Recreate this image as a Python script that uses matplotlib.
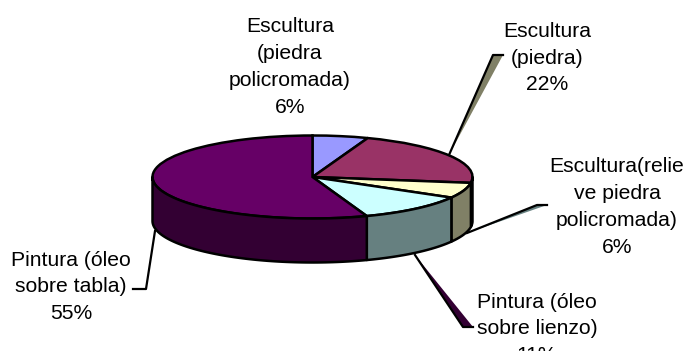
import numpy as np
import matplotlib
matplotlib.use('Agg')
import matplotlib.pyplot as plt

plt.rcParams['font.family'] = ['Liberation Sans', 'DejaVu Sans']

# data
labels = ['Escultura\n(piedra\npolicromada)', 'Escultura\n(piedra)',
          'Escultura(relie\nve piedra\npolicromada)', 'Pintura (óleo\nsobre lienzo)',
          'Pintura (óleo\nsobre tabla)']
shares = [5.6, 21.6, 6.0, 11.2, 55.4]  # estimated from the slice edges, labels round them
pct_labels = ['6%', '22%', '6%', '11%', '55%']
top_colors = ['#9999FF', '#993366', '#FFFFCC', '#CCFFFF', '#660066']
side_colors = ['#4D4D80', '#4D1A33', '#808066', '#668080', '#330033']

# label centre in image pixels
label_pos = [(290, 67), (547, 58), (617, 207), (537, 329), (71, 287)]

W, H = 689, 351
CX, CY, A, B, DEPTH = 312.5, 177, 160, 41.5, 44

fig = plt.figure(figsize=(W / 100, H / 100), dpi=100)
ax = fig.add_axes([0, 0, 1, 1])
ax.pie(shares, colors=top_colors, startangle=90, counterclock=False, radius=1,
       wedgeprops={'edgecolor': 'black', 'linewidth': 1.8})
ax.set_aspect('auto')
ax.set_xlim((0 - CX) / A, (W - CX) / A)
ax.set_ylim((CY - H) / B, (CY - 0) / B)
ax.axis('off')


def px(x, y):
    return (x - CX) / A, (CY - y) / B


# side wall, only the front half (90..270 clockwise from the top) shows
edges = np.cumsum([0] + shares) * 360 / sum(shares)
d = DEPTH / B
for i in range(len(shares)):
    a0, a1 = max(edges[i], 90), min(edges[i + 1], 270)
    if a0 >= a1:
        continue
    t = np.radians(np.linspace(a0, a1, 80))
    xs, ys = np.sin(t), np.cos(t)
    ax.fill(np.r_[xs, xs[::-1]], np.r_[ys, ys[::-1] - d], fc=side_colors[i],
            ec='black', lw=1.8, joinstyle='round', zorder=3)

# leader lines with their coloured tails
tails = [
    ((449, 155), (493, 55), (503, 55), side_colors[2]),
    ((467, 233), (537, 205), (547, 205), side_colors[3]),
    ((415, 255), (463, 327), (473, 327), side_colors[4]),
]
for p0, p1, p2, col in tails:
    q0, q1, q2 = px(*p0), px(*p1), px(*p2)
    ax.fill([q0[0], q1[0], q2[0]], [q0[1], q1[1], q2[1]], fc=col, ec='none', zorder=1)
    ax.plot([q0[0], q1[0], q2[0]], [q0[1], q1[1], q2[1]], color='black', lw=1.6, zorder=2)
q = [px(155, 231), px(146, 289), px(133, 289)]
ax.plot([p[0] for p in q], [p[1] for p in q], color='black', lw=1.6, zorder=2)

for lab, pct, (x, y) in zip(labels, pct_labels, label_pos):
    fig.text(x / W, 1 - y / H, f'{lab}\n{pct}', ha='center', va='center',
             fontsize=15.2, linespacing=1.52, color='black')

fig.savefig('out.png', dpi=100)
